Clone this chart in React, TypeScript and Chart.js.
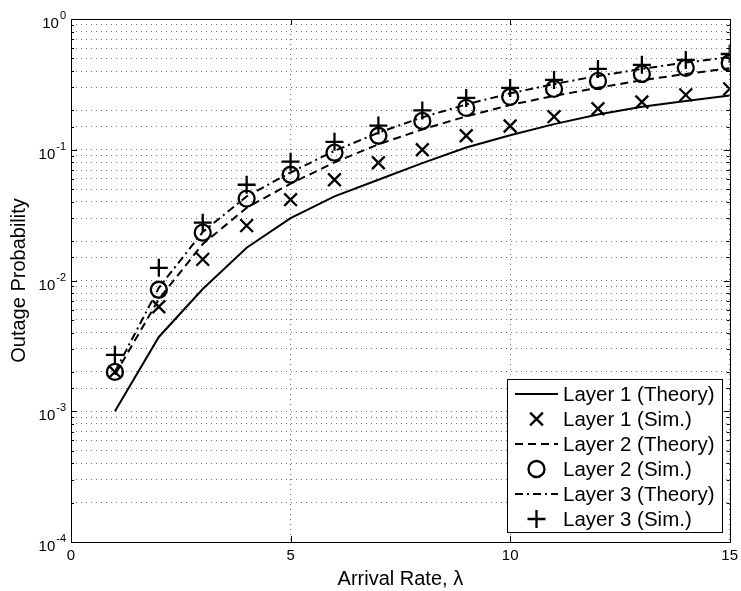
import React, { useEffect, useRef } from 'react';
import { Chart, registerables } from 'chart.js';

Chart.register(...registerables);

const arrivalRates = [1, 2, 3, 4, 5, 6, 7, 8, 9, 10, 11, 12, 13, 14, 15];
const layer1Theory = [0.001, 0.0037, 0.0086, 0.0178, 0.030, 0.044, 0.059, 0.079, 0.104, 0.129, 0.157, 0.186, 0.213, 0.236, 0.26];
const layer1Sim = [0.002, 0.0063, 0.0145, 0.0263, 0.0415, 0.059, 0.0796, 0.1, 0.128, 0.152, 0.179, 0.206, 0.232, 0.263, 0.292];
const layer2Theory = [0.0019, 0.0072, 0.019, 0.036, 0.055, 0.08, 0.11, 0.143, 0.18, 0.22, 0.258, 0.298, 0.34, 0.38, 0.42];
const layer2Sim = [0.002, 0.0085, 0.0232, 0.0423, 0.0644, 0.0949, 0.128, 0.166, 0.209, 0.254, 0.292, 0.336, 0.38, 0.423, 0.461];
const layer3Theory = [0.002, 0.0088, 0.0235, 0.044, 0.067, 0.098, 0.135, 0.177, 0.222, 0.27, 0.318, 0.367, 0.415, 0.465, 0.51];
const layer3Sim = [0.0027, 0.0125, 0.0277, 0.054, 0.081, 0.115, 0.153, 0.20, 0.249, 0.297, 0.342, 0.415, 0.446, 0.486, 0.54];

const seriesLabels = [
  'Layer 1 (Theory)',
  'Layer 1 (Sim.)',
  'Layer 2 (Theory)',
  'Layer 2 (Sim.)',
  'Layer 3 (Theory)',
  'Layer 3 (Sim.)',
];
const xTickValues = [0, 5, 10, 15];
const xTickLabels = ['0', '5', '10', '15'];
const yDecadeExponents = [-4, -3, -2, -1, 0];
const xTitle = 'Arrival Rate, \u03bb';
const yTitle = 'Outage Probability';

const FONT = '"Liberation Sans", Arial, Helvetica, sans-serif';

const toPoints = (ys: number[]) => arrivalRates.map((x, i) => ({ x, y: ys[i] }));

function drawMarker(ctx: CanvasRenderingContext2D, style: string, x: number, y: number, r: number) {
  ctx.beginPath();
  if (style === 'circle') {
    ctx.arc(x, y, r, 0, Math.PI * 2);
  } else if (style === 'cross') {
    ctx.moveTo(x - r, y);
    ctx.lineTo(x + r, y);
    ctx.moveTo(x, y - r);
    ctx.lineTo(x, y + r);
  } else if (style === 'crossRot') {
    const d = r * Math.SQRT1_2;
    ctx.moveTo(x - d, y - d);
    ctx.lineTo(x + d, y + d);
    ctx.moveTo(x - d, y + d);
    ctx.lineTo(x + d, y - d);
  }
  ctx.stroke();
}

const framePlugin = {
  id: 'matlabFrame',
  afterDatasetsDraw(chart: any) {
    const { ctx, chartArea } = chart;
    const boxW = 215;
    const boxH = 153;
    const x0 = Math.round(chartArea.right - 8 - boxW);
    const y0 = Math.round(chartArea.bottom - 10 - boxH);
    ctx.save();
    ctx.setLineDash([]);
    ctx.fillStyle = '#ffffff';
    ctx.fillRect(x0, y0, boxW, boxH);
    ctx.strokeStyle = '#000000';
    ctx.lineWidth = 1;
    ctx.strokeRect(x0 + 0.5, y0 + 0.5, boxW, boxH);
    chart.data.datasets.forEach((ds: any, i: number) => {
      const cy = y0 + 15 + i * 25;
      const sx0 = x0 + 8;
      const sx1 = x0 + 51;
      ctx.strokeStyle = '#000000';
      if (ds.showLine !== false) {
        ctx.lineWidth = ds.borderWidth;
        ctx.setLineDash(ds.borderDash || []);
        ctx.beginPath();
        ctx.moveTo(sx0, cy);
        ctx.lineTo(sx1, cy);
        ctx.stroke();
        ctx.setLineDash([]);
      } else {
        ctx.lineWidth = ds.pointBorderWidth;
        drawMarker(ctx, ds.pointStyle, (sx0 + sx1) / 2, cy, ds.pointRadius);
      }
      ctx.fillStyle = '#000000';
      ctx.font = `20.5px ${FONT}`;
      ctx.textAlign = 'left';
      ctx.textBaseline = 'middle';
      ctx.fillText(ds.label, x0 + 56, cy + 1);
    });
    ctx.restore();
  },
  afterDraw(chart: any) {
    const { ctx, chartArea } = chart;
    const xs = chart.scales.x;
    const ys = chart.scales.y;
    const { left, right, top, bottom } = chartArea;
    ctx.save();
    ctx.setLineDash([]);
    ctx.strokeStyle = '#000000';
    ctx.lineWidth = 1;
    ctx.strokeRect(Math.round(left) + 0.5, Math.round(top) + 0.5, Math.round(right - left), Math.round(bottom - top));
    ctx.beginPath();
    ys.ticks.forEach((t: any) => {
      const v = t.value;
      const exp = Math.log10(v);
      const isMajor = Math.abs(exp - Math.round(exp)) < 1e-9;
      const len = isMajor ? 6 : 3;
      const py = Math.round(ys.getPixelForValue(v)) + 0.5;
      ctx.moveTo(left, py);
      ctx.lineTo(left + len, py);
      ctx.moveTo(right, py);
      ctx.lineTo(right - len, py);
    });
    xTickValues.forEach((v) => {
      const px = Math.round(xs.getPixelForValue(v)) + 0.5;
      ctx.moveTo(px, bottom);
      ctx.lineTo(px, bottom - 6);
      ctx.moveTo(px, top);
      ctx.lineTo(px, top + 6);
    });
    ctx.stroke();
    ctx.fillStyle = '#000000';
    ctx.font = `15px ${FONT}`;
    ctx.textAlign = 'center';
    ctx.textBaseline = 'middle';
    xTickValues.forEach((v, i) => {
      ctx.fillText(xTickLabels[i], xs.getPixelForValue(v), bottom + 14);
    });
    yDecadeExponents.forEach((e) => {
      const py = ys.getPixelForValue(Math.pow(10, e));
      const expText = String(e);
      ctx.font = `11px ${FONT}`;
      const expW = ctx.measureText(expText).width;
      const xr = left - 5;
      ctx.textBaseline = 'middle';
      ctx.textAlign = 'right';
      ctx.fillText(expText, xr, py - 3);
      ctx.font = `15px ${FONT}`;
      ctx.fillText('10', xr - expW - 1, py + 5);
    });
    ctx.restore();
  },
};

export default function App() {
  const canvasRef = useRef<HTMLCanvasElement | null>(null);

  useEffect(() => {
    document.body.style.margin = '0';
    const canvas = canvasRef.current;
    if (!canvas) return;
    const lineBase = {
      borderColor: '#000000',
      backgroundColor: '#000000',
      borderWidth: 2,
      pointRadius: 0,
      pointHoverRadius: 0,
      fill: false,
      tension: 0,
    };
    const markerBase = {
      showLine: false,
      borderColor: '#000000',
      backgroundColor: 'rgba(0,0,0,0)',
      pointBorderColor: '#000000',
      pointBackgroundColor: 'rgba(0,0,0,0)',
      pointBorderWidth: 2.3,
      pointHoverRadius: 0,
    };
    const chart = new Chart(canvas, {
      type: 'line',
      data: {
        datasets: [
          { ...lineBase, label: seriesLabels[0], data: toPoints(layer1Theory), borderDash: [] },
          { ...markerBase, label: seriesLabels[1], data: toPoints(layer1Sim), pointStyle: 'crossRot', pointRadius: 9 },
          { ...lineBase, label: seriesLabels[2], data: toPoints(layer2Theory), borderDash: [8, 5] },
          { ...markerBase, label: seriesLabels[3], data: toPoints(layer2Sim), pointStyle: 'circle', pointRadius: 8 },
          { ...lineBase, label: seriesLabels[4], data: toPoints(layer3Theory), borderDash: [8, 4, 2, 4] },
          { ...markerBase, label: seriesLabels[5], data: toPoints(layer3Sim), pointStyle: 'cross', pointRadius: 9 },
        ] as any,
      },
      options: {
        responsive: false,
        animation: false,
        devicePixelRatio: 1,
        layout: { padding: { top: 19, right: 10, left: 0, bottom: 0 } },
        plugins: {
          legend: { display: false },
          tooltip: { enabled: false },
        },
        scales: {
          x: {
            type: 'linear',
            min: 0,
            max: 15,
            afterFit: (s: any) => {
              s.height = 49;
              s.paddingLeft = 0;
              s.paddingRight = 0;
            },
            afterBuildTicks: (s: any) => {
              s.ticks = xTickValues.map((v) => ({ value: v }));
            },
            ticks: { display: false },
            grid: {
              color: 'rgba(0,0,0,0.55)',
              lineWidth: 1,
              drawTicks: false,
            },
            border: { display: false, dash: [1, 4] },
            title: {
              display: true,
              text: xTitle,
              color: '#000000',
              font: { family: FONT, size: 20 },
              padding: { top: 0, bottom: 0 },
            },
          },
          y: {
            type: 'logarithmic',
            min: 1e-4,
            max: 1,
            afterFit: (s: any) => {
              s.width = 71;
              s.paddingTop = 0;
              s.paddingBottom = 0;
            },
            ticks: { display: false },
            grid: {
              color: 'rgba(0,0,0,0.55)',
              lineWidth: 1,
              drawTicks: false,
            },
            border: { display: false, dash: [1, 4] },
            title: {
              display: true,
              text: yTitle,
              color: '#000000',
              font: { family: FONT, size: 20 },
              padding: { top: 7, bottom: 0 },
            },
          },
        },
      } as any,
      plugins: [framePlugin],
    });
    return () => chart.destroy();
  }, []);

  return (
    <div style={{ width: 741, height: 591, background: '#ffffff' }}>
      <canvas ref={canvasRef} width={741} height={591} style={{ display: 'block' }} />
    </div>
  );
}
